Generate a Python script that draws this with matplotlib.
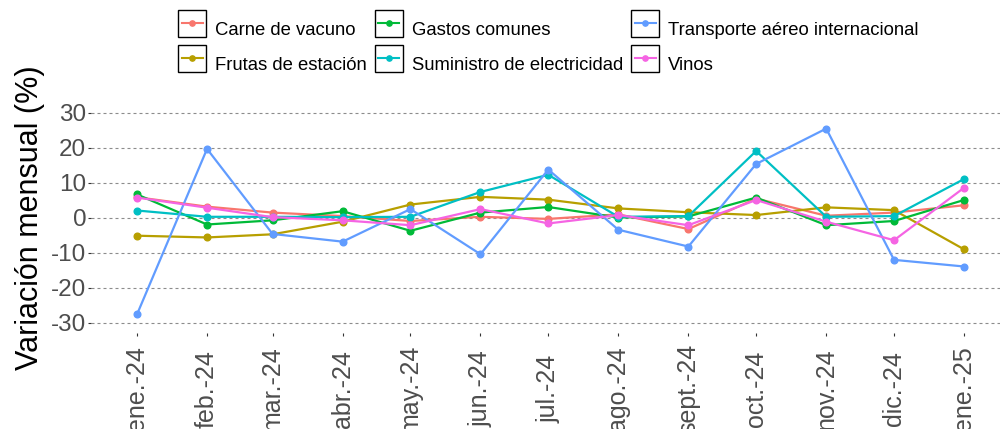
#!/usr/bin/env python3
# -*- coding: utf-8 -*-

"""
Variación mensual (%) de algunos productos del IPC, ene.-24 a ene.-25.
"""

import datetime as dt

import matplotlib
matplotlib.use("Agg")
import matplotlib.pyplot as plt
import matplotlib.dates as mdates
import matplotlib.transforms as mtransforms
from matplotlib.lines import Line2D
from matplotlib.patches import Rectangle

plt.rcParams['font.family'] = ['Liberation Sans', 'DejaVu Sans']
plt.rcParams['axes.unicode_minus'] = False

# --- Datos ---
meses = [dt.date(2024, m, 1) for m in range(1, 13)] + [dt.date(2025, 1, 1)]
etiquetas_meses = ['ene.-24', 'feb.-24', 'mar.-24', 'abr.-24', 'may.-24', 'jun.-24',
                   'jul.-24', 'ago.-24', 'sept.-24', 'oct.-24', 'nov.-24', 'dic.-24',
                   'ene.-25']

carne_vacuno = [5.8, 3.1, 1.4, 0.4, -1.0, 0.2, -0.4, 0.9, -3.3, 5.4, 0.5, 1.4, 3.5]
frutas_estacion = [-5.2, -5.7, -4.8, -1.2, 3.7, 5.9, 5.1, 2.6, 1.5, 0.7, 2.9, 2.1, -9.1]
gastos_comunes = [6.6, -2.0, -0.8, 1.8, -3.8, 1.4, 3.0, 0.0, 0.3, 5.7, -2.2, -1.0, 5.0]
suministro_electricidad = [2.0, 0.2, 0.2, 0.1, 0.2, 7.3, 12.2, 0.2, 0.4, 19.0, 0.2, 0.4, 11.0]
transporte_aereo = [-27.7, 19.6, -4.7, -6.9, 2.4, -10.5, 13.7, -3.5, -8.3, 15.3, 25.4, -12.1, -14.0]
vinos = [5.7, 2.8, 0.1, -0.8, -2.2, 2.4, -1.7, 0.7, -2.2, 5.0, -1.2, -6.5, 8.5]

series = [
    ('Carne de vacuno', carne_vacuno, '#F8766D'),
    ('Frutas de estación', frutas_estacion, '#B79F00'),
    ('Gastos comunes', gastos_comunes, '#00BA38'),
    ('Suministro de electricidad', suministro_electricidad, '#00BFC4'),
    ('Transporte aéreo internacional', transporte_aereo, '#619CFF'),
    ('Vinos', vinos, '#F564E3'),
]


# --- Clave de leyenda estilo ggplot: caja con borde negro + línea con punto ---
# La caja se dibuja más alta que el handlebox para que el texto quede centrado
class CajaLeyenda:
    alto_caja = 1.62  # en unidades del alto del handlebox

    def legend_artist(self, legend, orig_handle, fontsize, handlebox):
        x0, y0 = handlebox.xdescent, handlebox.ydescent
        w, h = handlebox.width, handlebox.height
        tr = handlebox.get_transform()
        color = orig_handle.get_color()
        yc = y0 + h / 2 + 0.1 * h
        hc = h * self.alto_caja
        caja = Rectangle((x0, yc - hc / 2), w, hc, facecolor='white',
                         edgecolor='black', lw=1.0, transform=tr)
        linea = Line2D([x0 + 0.12 * w, x0 + 0.88 * w], [yc] * 2,
                       color=color, lw=1.5, transform=tr)
        punto = Line2D([x0 + w / 2], [yc], marker='o', markersize=3.8,
                       color=color, lw=0, transform=tr)
        handlebox.add_artist(caja)
        handlebox.add_artist(linea)
        handlebox.add_artist(punto)
        return caja


# --- Figura ---
fig = plt.figure(figsize=(10.02, 4.29), dpi=100)
W, H = 1002, 429
ax = fig.add_axes([91 / W, (H - 333) / H, (1000 - 91) / W, (333 - 102) / H])

lineas = []
for nombre, valores, color in series:
    l, = ax.plot(meses, valores, color=color, lw=1.6, marker='o', markersize=4.8,
                 label=nombre)
    lineas.append(l)

# Ejes
x0 = mdates.date2num(dt.date(2024, 1, 1))
ax.set_xlim(x0 - 20.35, x0 + 366 + 15.9)
ax.set_ylim(-33, 33)
ax.set_yticks([-30, -20, -10, 0, 10, 20, 30])
ax.set_xticks(meses, etiquetas_meses, rotation=90, va='center')

# etiquetas del eje x un poco a la izquierda de la marca (como en ggplot)
desplazamiento = mtransforms.ScaledTranslation(-3 / 100, 0, fig.dpi_scale_trans)
for lab in ax.get_xticklabels():
    lab.set_transform(lab.get_transform() + desplazamiento)

ax.grid(axis='y', color='#8c8c8c', lw=0.8, linestyle=(0, (2.7, 2.7)))
ax.set_axisbelow(True)
for s in ax.spines.values():
    s.set_visible(False)

ax.tick_params(axis='y', length=2.5, width=0.8, pad=1, labelsize=17.5,
               color='#333333', labelcolor='#4D4D4D')
ax.tick_params(axis='x', length=2.5, width=0.8, pad=37.8, labelsize=18,
               color='#333333', labelcolor='#4D4D4D')

fig.text(30 / W, 1 - 217.5 / H, 'Variación mensual (%)', rotation=90,
         ha='center', va='center', fontsize=22)

# Leyenda
fig.legend(handles=lineas, loc='upper left', ncol=3,
           bbox_to_anchor=(178.3 / W, 1 - 20.5 / H), frameon=False,
           fontsize=13.3, borderpad=0, borderaxespad=0,
           handlelength=1.49, handleheight=1.0, handletextpad=0.5,
           columnspacing=0.45, labelspacing=0.9,
           handler_map={Line2D: CajaLeyenda()})

fig.savefig('out.png', dpi=100)
